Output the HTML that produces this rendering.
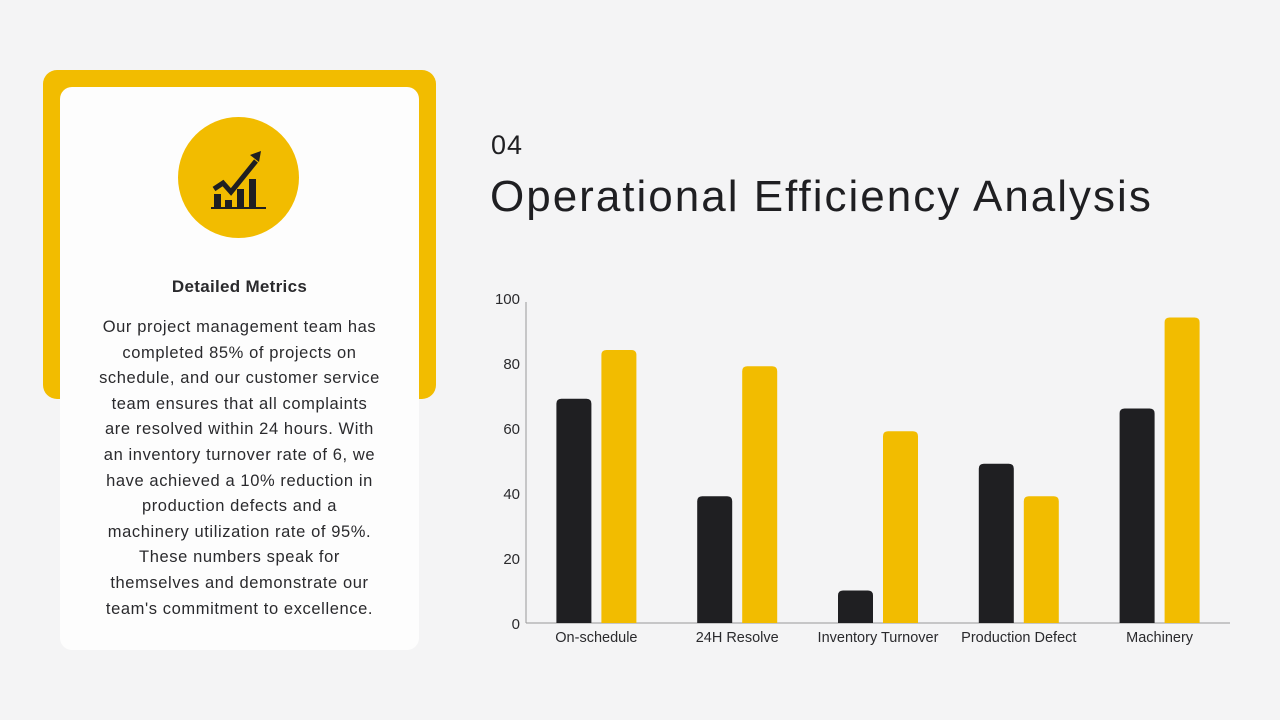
<!DOCTYPE html>
<html><head><meta charset="utf-8"><style>
body{margin:0;width:1280px;height:720px;background:#f4f4f5;font-family:"Liberation Sans",sans-serif;position:relative;overflow:hidden;color:#1f1f22}
.abs{position:absolute}
</style></head><body>
<div class="abs" style="left:43px;top:70px;width:393px;height:329px;background:#f2bc00;border-radius:14px"></div>
<div class="abs" style="left:60px;top:87px;width:359px;height:563px;background:#fdfdfd;border-radius:12px"></div>
<div class="abs" style="left:178px;top:117px;width:121px;height:121px;border-radius:50%;background:#f2bc00">
<svg width="121" height="121" viewBox="0 0 121 121">
<g fill="#1f1f22"><rect x="36" y="77" width="7" height="14"/><rect x="47" y="83" width="7" height="8"/><rect x="59" y="72" width="7" height="19"/><rect x="71" y="62" width="7" height="29"/>
<rect x="33" y="90" width="55" height="2"/>
<polyline points="36,72 45,66 53,75 78,44" fill="none" stroke="#1f1f22" stroke-width="5"/>
<polygon points="72,38 83,34 81,45"/></g></svg></div>
<div class="abs" style="left:60px;top:277px;width:359px;text-align:center;font-size:17px;font-weight:bold;color:#2a2a2d;letter-spacing:0.3px">Detailed Metrics</div>
<div class="abs" style="left:60px;top:315px;width:359px;text-align:center;font-size:16.5px;letter-spacing:0.6px;line-height:25.6px;color:#2a2a2d;white-space:nowrap">Our project management team has<br>completed 85% of projects on<br>schedule, and our customer service<br>team ensures that all complaints<br>are resolved within 24 hours. With<br>an inventory turnover rate of 6, we<br>have achieved a 10% reduction in<br>production defects and a<br>machinery utilization rate of 95%.<br>These numbers speak for<br>themselves and demonstrate our<br>team's commitment to excellence.</div>
<div class="abs" style="left:491px;top:130px;font-size:27px;letter-spacing:1px">04</div>
<div class="abs" style="left:490px;top:172px;font-size:44px;letter-spacing:2px">Operational Efficiency Analysis</div>
<svg class="abs" id="chart" style="left:0;top:0" width="1280" height="720"></svg>
<script>
const categories=["On-schedule","24H Resolve","Inventory Turnover","Production Defect","Machinery"];
const seriesA=[69,39,10,49,66];
const seriesB=[84,79,59,39,94];
const yTicks=[0,20,40,60,80,100];
const svg=document.getElementById('chart');const NS='http://www.w3.org/2000/svg';
const x0=526,x1=1230,y0=623,y1=298;
const y=v=>y0-(v/100)*(y0-y1);
const band=(x1-x0)/categories.length;
const cx=i=>x0+band*(i+0.5);
function mk(t,a){const e=document.createElementNS(NS,t);for(const k in a)e.setAttribute(k,a[k]);svg.appendChild(e);return e;}
let ax=mk('line',{x1:x0,y1:302,x2:x0,y2:y0,stroke:'#999','stroke-width':1});


let bx=mk('line',{x1:x0,y1:y0,x2:x1,y2:y0,stroke:'#999','stroke-width':1});


yTicks.forEach(v=>{const t=mk('text',{x:520,y:y(v)+6,'text-anchor':'end','font-size':15,fill:'#2a2a2d','font-family':'Liberation Sans'});t.textContent=v;

});
function bar(xl,v,c){const top=y(v),r=5;
const p=mk('path',{d:`M${xl},${y0}V${top+r}Q${xl},${top} ${xl+r},${top}H${xl+35-r}Q${xl+35},${top} ${xl+35},${top+r}V${y0}Z`,fill:c});return p;}
categories.forEach((c,i)=>{const m=cx(i);
const a=bar(m-40,seriesA[i],'#1f1f22');


const b=bar(m+5,seriesB[i],'#f2bc00');


const t=mk('text',{x:m,y:642,'text-anchor':'middle','font-size':14.5,fill:'#2a2a2d','font-family':'Liberation Sans'});t.textContent=c;

});
</script>
</body></html>
